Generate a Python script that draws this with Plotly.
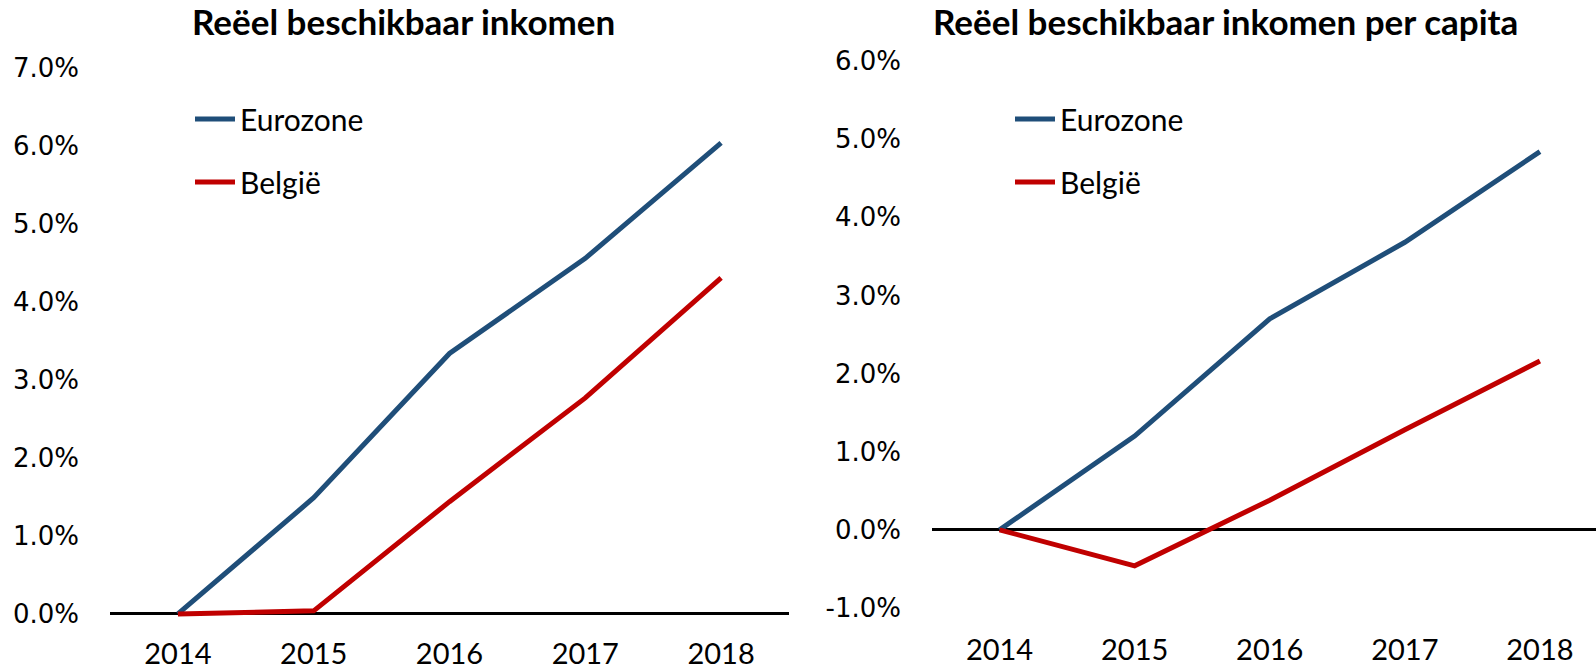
import plotly.graph_objects as go

# Data: cumulative change since 2014 (in %)
years = ["2014", "2015", "2016", "2017", "2018"]
inkomen_eurozone = [0.0, 1.49, 3.34, 4.56, 6.04]
inkomen_belgie = [0.0, 0.04, 1.44, 2.77, 4.31]
capita_eurozone = [0.0, 1.20, 2.70, 3.68, 4.84]
capita_belgie = [0.0, -0.46, 0.38, 1.28, 2.16]

left_ticks = [0, 1, 2, 3, 4, 5, 6, 7]
right_ticks = [-1, 0, 1, 2, 3, 4, 5, 6]

BLUE = "#1F4E79"
RED = "#C00000"
LINE_W = 5

fig = go.Figure()

fig.add_trace(go.Scatter(x=years, y=inkomen_eurozone, name="Eurozone", mode="lines",
                         line=dict(color=BLUE, width=LINE_W), xaxis="x", yaxis="y",
                         legend="legend", legendgroup="a"))
fig.add_trace(go.Scatter(x=years, y=inkomen_belgie, name="België", mode="lines",
                         line=dict(color=RED, width=LINE_W), xaxis="x", yaxis="y",
                         legend="legend", legendgroup="b"))
fig.add_trace(go.Scatter(x=years, y=capita_eurozone, name="Eurozone", mode="lines",
                         line=dict(color=BLUE, width=LINE_W), xaxis="x2", yaxis="y2",
                         legend="legend2", legendgroup="c"))
fig.add_trace(go.Scatter(x=years, y=capita_belgie, name="België", mode="lines",
                         line=dict(color=RED, width=LINE_W), xaxis="x2", yaxis="y2",
                         legend="legend2", legendgroup="d"))

tick_font_y = dict(family="DejaVu Sans", size=26, color="#000000")
tick_font_x = dict(family="Lato", size=29, color="#000000")
legend_font = dict(family="Lato", size=30, color="#000000")
title_font = dict(family="Lato", size=35, color="#000000")

fig.update_layout(
    width=1596, height=670,
    margin=dict(l=0, r=0, t=0, b=0, autoexpand=False),
    paper_bgcolor="white", plot_bgcolor="white",
    showlegend=True,
    xaxis=dict(domain=[110 / 1596, 789 / 1596], type="category", range=[-0.5, 4.5],
               showgrid=False, showline=False, zeroline=False, ticks="",
               tickfont=tick_font_x, ticklabelstandoff=14, anchor="y", automargin=False),
    yaxis=dict(domain=[0.0743, 0.8985], range=[-0.08, 7], tickvals=left_ticks,
               ticktext=[f"{v:.1f}%" for v in left_ticks], showgrid=False,
               showline=False, zeroline=True, zerolinecolor="#000000", zerolinewidth=2.5,
               tickfont=tick_font_y, ticklabelstandoff=30, anchor="x", automargin=False),
    xaxis2=dict(domain=[932 / 1596, 1.0], type="category", range=[-0.5, 4.415],
                showgrid=False, showline=False, zeroline=False, ticks="",
                tickfont=tick_font_x, ticklabelstandoff=22, anchor="y2", automargin=False),
    yaxis2=dict(domain=[0.0925, 0.909], range=[-1, 6], tickvals=right_ticks,
                ticktext=[f"{v:.1f}%" for v in right_ticks], showgrid=False,
                showline=False, zeroline=True, zerolinecolor="#000000", zerolinewidth=2.5,
                tickfont=tick_font_y, ticklabelstandoff=30, anchor="x2", automargin=False),
    legend=dict(x=190 / 1596, y=1 - 93 / 670, xanchor="left", yanchor="top",
                font=legend_font, bgcolor="rgba(0,0,0,0)", tracegroupgap=21,
                itemwidth=40),
    legend2=dict(x=1010 / 1596, y=1 - 93 / 670, xanchor="left", yanchor="top",
                 font=legend_font, bgcolor="rgba(0,0,0,0)", tracegroupgap=21,
                 itemwidth=40),
    annotations=[
        dict(text="<b>Reëel beschikbaar inkomen</b>", x=403 / 1596, y=1 - 21 / 670,
             xref="paper", yref="paper", xanchor="center", yanchor="middle",
             showarrow=False, font=title_font),
        dict(text="<b>Reëel beschikbaar inkomen per capita</b>", x=1225 / 1596,
             y=1 - 21 / 670, xref="paper", yref="paper", xanchor="center",
             yanchor="middle", showarrow=False, font=title_font),
    ],
)

fig.write_html("out.html")
